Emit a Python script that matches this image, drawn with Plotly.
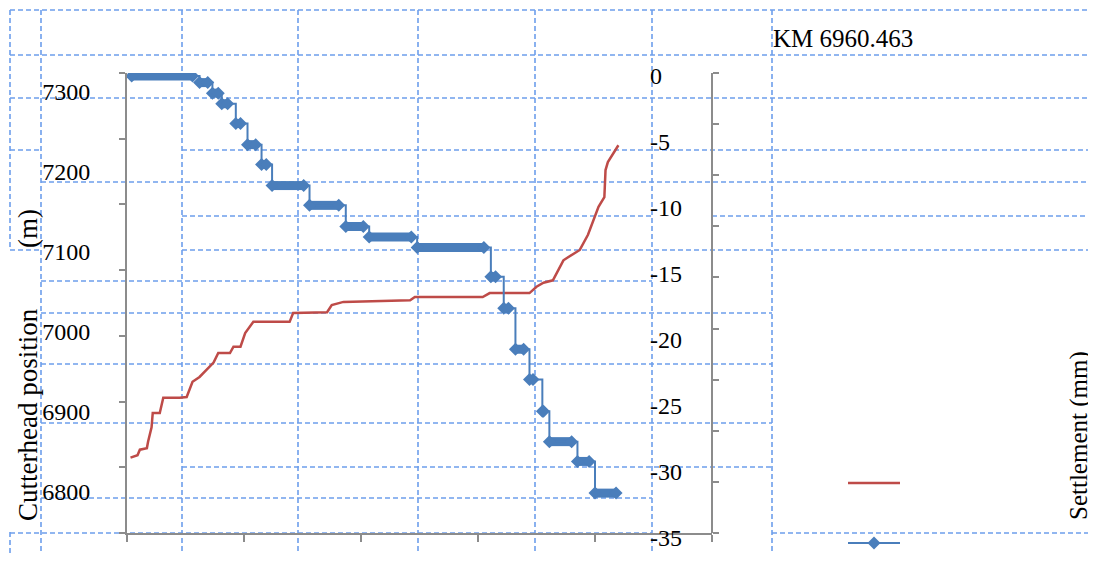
import plotly.graph_objects as go

# ---------------- data ----------------
# Cutterhead position (m) versus time (x in arbitrary time units, axis 0..50)
red_time = [0.3, 0.9, 1.1, 1.7, 1.8, 2.1, 2.2, 2.8, 3.1, 4.5, 5.1, 5.6, 6.2, 6.8, 7.4, 7.8,
            8.8, 9.1, 9.7, 10.1, 10.8, 13.9, 14.2, 17.1, 17.5, 18.5, 20.5, 23.3, 24.2, 24.6,
            30.4, 31.0, 34.4, 35.0, 35.6, 36.4, 37.3, 37.6, 38.7, 39.4, 39.8, 40.3, 40.8,
            40.9, 41.1, 42.0]
cutterhead_pos = [6842, 6845, 6852, 6854, 6862, 6880, 6898, 6898, 6917, 6917, 6918, 6937,
                  6943, 6952, 6961, 6973, 6973, 6981, 6981, 6998, 7012, 7012, 7023, 7024,
                  7033, 7037, 7038, 7039, 7039, 7043, 7043, 7048, 7048, 7056, 7061, 7064,
                  7089, 7092, 7102, 7121, 7137, 7156, 7168, 7202, 7212, 7233]

# Settlement (mm): stepwise plateaus (start time, end time, value)
plateau_start = [0.4, 6.2, 7.3, 8.1, 9.3, 10.3, 11.5, 12.4, 15.6, 18.7, 20.7, 24.8, 31.1,
                 32.2, 33.2, 34.4, 35.5, 36.1, 38.5, 40.0]
plateau_end = [5.6, 6.9, 7.8, 8.6, 9.7, 11.0, 11.9, 15.1, 18.1, 20.2, 24.3, 30.5, 31.5,
               32.6, 33.9, 34.7, 35.6, 38.0, 39.5, 41.8]
settlement = [0, -0.5, -1.3, -2.1, -3.6, -5.2, -6.7, -8.3, -9.8, -11.4, -12.2, -13.0, -15.2,
              -17.6, -20.7, -23.0, -25.4, -27.7, -29.2, -31.6]

left_ticks = [6800, 6900, 7000, 7100, 7200, 7300]
right_ticks = [0, -5, -10, -15, -20, -25, -30, -35]

title_text = "KM 6960.463"

# ---------------- geometry / style ----------------
OFF = 8  # page body margin: figure starts 8 px right/down in the window
W, H = 1096 - OFF, 561 - 2 * OFF  # keep the page free of scrollbars
PX_L, PX_R, PY_T, PY_B = 127, 712, 73, 533  # plot area in window pixels


def fx(px):
    return (px - OFF) / W


def fy(py):
    return 1 - (py - OFF) / H


# left axis scale: 7050 m at y=291.5 px, 0.799 px per m
L_C, L_PY, L_S = 7050, 291.5, 0.799
left_range = [L_C - (PY_B - L_PY) / L_S, L_C + (L_PY - PY_T) / L_S]
# right axis scale: 0 mm at y=76 px, 13.2 px per mm
R_PY0, R_S = 76, 13.2
right_range = [-(PY_B - R_PY0) / R_S, (R_PY0 - PY_T) / R_S]
right_label_range = [-(OFF + H - R_PY0) / R_S, (R_PY0 - OFF) / R_S]
x_range = [0, 50]

RED = "#BE4B48"
BLUE = "#4A7EBB"
AXC = "#8c8c8c"
GRID = "#6d9eeb"
FONT = "Liberation Serif"

# build step sequences from plateaus
step_x, step_y, bar_x, bar_y = [], [], [], []
for s, e, v in zip(plateau_start, plateau_end, settlement):
    step_x += [s, e]
    step_y += [v, v]
    bar_x += [s, e, None]
    bar_y += [v, v, None]

fig = go.Figure()

fig.add_trace(go.Scatter(x=red_time, y=cutterhead_pos, mode="lines",
                         line=dict(color=RED, width=2.5), name=" ",
                         xaxis="x", yaxis="y", legend="legend", hoverinfo="skip"))
fig.add_trace(go.Scatter(x=bar_x, y=bar_y, mode="lines",
                         line=dict(color=BLUE, width=9), showlegend=False,
                         xaxis="x", yaxis="y2", hoverinfo="skip"))
fig.add_trace(go.Scatter(x=step_x, y=step_y, mode="lines+markers",
                         line=dict(color=BLUE, width=2, shape="hv"),
                         marker=dict(symbol="diamond", size=10, color=BLUE),
                         name=" ", xaxis="x", yaxis="y2", legend="legend2",
                         hoverinfo="skip"))
# carrier for the right-hand tick-label axis
fig.add_trace(go.Scatter(x=[None], y=[None], xaxis="x2", yaxis="y3",
                         showlegend=False, hoverinfo="skip"))

# dashed sheet grid (decorative)
v_segments = [(10, 10, 250), (10, 532, 561), (41, 10, 561), (182, 10, 561),
              (298, 10, 561), (418, 10, 561), (535, 10, 561), (652, 10, 561),
              (772, 10, 561)]
h_segments = [(10, 10, 1096), (55, 10, 1096), (98, 10, 1096), (150, 10, 41),
              (150, 182, 1096), (182, 41, 1096), (216, 182, 652), (216, 712, 1096),
              (250, 10, 41), (250, 182, 1096), (281, 41, 652), (313, 41, 772),
              (364, 41, 772), (423, 41, 772), (467, 182, 772), (498, 41, 652),
              (533, 10, 652), (533, 772, 1096)]
shapes = []
for xx, y0, y1 in v_segments:
    shapes.append(dict(type="line", xref="paper", yref="paper", x0=fx(xx), x1=fx(xx),
                       y0=fy(y0), y1=fy(y1), layer="below",
                       line=dict(color=GRID, width=1.6, dash="5px,3px")))
for yy, x0, x1 in h_segments:
    shapes.append(dict(type="line", xref="paper", yref="paper", x0=fx(x0), x1=fx(x1),
                       y0=fy(yy), y1=fy(yy), layer="below",
                       line=dict(color=GRID, width=1.6, dash="5px,3px")))

tickfont = dict(family=FONT, size=24, color="black")

fig.update_layout(
    width=W, height=H,
    margin=dict(l=0, r=0, t=0, b=0, autoexpand=False),
    paper_bgcolor="white", plot_bgcolor="rgba(0,0,0,0)",
    shapes=shapes,
    xaxis=dict(domain=[fx(PX_L), fx(PX_R)], range=x_range, anchor="y",
               showgrid=False, zeroline=False, showline=True, linecolor=AXC,
               linewidth=2, ticks="outside", ticklen=7, tickwidth=2, tickcolor=AXC,
               dtick=10, tick0=0, showticklabels=False),
    yaxis=dict(domain=[fy(PY_B), fy(PY_T)], range=left_range, anchor="x",
               showgrid=False, zeroline=False, showline=True, linecolor=AXC,
               linewidth=2, ticks="", tickmode="array", tickvals=left_ticks,
               ticktext=[str(t) for t in left_ticks], tickfont=tickfont,
               ticklabelstandoff=30,
               minor=dict(ticks="outside", ticklen=6, tickwidth=2, tickcolor=AXC,
                          tick0=left_range[0],
                          dtick=(left_range[1] - left_range[0]) / 7, showgrid=False)),
    yaxis2=dict(overlaying="y", side="right", anchor="free", position=fx(PX_R),
                range=right_range, showgrid=False, zeroline=False, showline=True,
                linecolor=AXC, linewidth=2, ticks="outside", ticklen=6, tickwidth=2,
                tickcolor=AXC, tick0=right_range[0],
                dtick=(right_range[1] - right_range[0]) / 9, showticklabels=False),
    xaxis2=dict(domain=[0, 1], range=[0, 1], visible=False, anchor="y3"),
    yaxis3=dict(domain=[0, 1], range=right_label_range, anchor="free",
                position=fx(649), side="right", showgrid=False, zeroline=False,
                showline=False, ticks="", tickmode="array", tickvals=right_ticks,
                ticktext=[str(t) for t in right_ticks], tickfont=tickfont,
                ticklabeloverflow="allow"),
    legend=dict(x=fx(843), y=fy(483), xanchor="left", yanchor="middle",
                bgcolor="rgba(0,0,0,0)", font=dict(size=12), itemwidth=52),
    legend2=dict(x=fx(843), y=fy(543), xanchor="left", yanchor="middle",
                 bgcolor="rgba(0,0,0,0)", font=dict(size=12), itemwidth=52),
    annotations=[
        dict(text=title_text, xref="paper", yref="paper", x=fx(771), y=fy(38),
             xanchor="left", yanchor="middle", showarrow=False,
             font=dict(family=FONT, size=25, color="black")),
        dict(text="Cutterhead position" + "\u00a0" * 9 + "(m)", xref="paper",
             yref="paper", x=fx(28), y=fy(365), textangle=-90, xanchor="center",
             yanchor="middle", showarrow=False,
             font=dict(family=FONT, size=27, color="black")),
        dict(text="Settlement (mm)", xref="paper", yref="paper", x=fx(1079),
             y=fy(436), textangle=-90, xanchor="center", yanchor="middle",
             showarrow=False, font=dict(family=FONT, size=25, color="black")),
    ],
)

fig.write_html("out.html")
